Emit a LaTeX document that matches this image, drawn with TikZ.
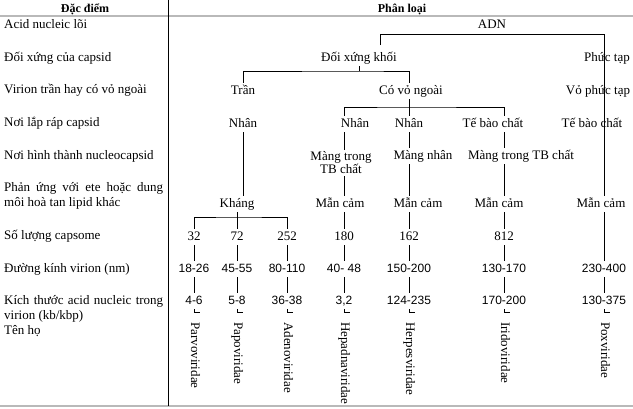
\documentclass[tikz,border=0pt]{standalone}
\usepackage{fontspec}
\setmainfont{Liberation Serif}
\newfontfamily\sofont{Liberation Sans}
\usetikzlibrary{positioning}
\tolerance=10000
\hyphenpenalty=10000

\begin{document}
\begin{tikzpicture}[
    x=1pt, y=-1pt,
    font=\fontsize{13}{15}\selectfont,
    dacdiem/.style = {anchor=base west, inner sep=0pt},
    tieude/.style = {anchor=base, inner sep=0pt, font=\fontsize{12}{14}\selectfont\bfseries},
    nut/.style = {inner sep=2pt, text height=9pt, text depth=3pt},
    so/.style = {nut, font=\fontsize{12}{14}\selectfont\sofont},
    ho/.style = {rotate=-90, anchor=west, inner xsep=10pt, inner ysep=0pt,
                 text height=9pt, text depth=3pt},
    duong/.style = {black, line width=0.75pt},
    ke/.style = {gray!55, line width=1.2pt}
    ]

  \useasboundingbox (0,0) rectangle (633,408);

  % khung bang
  \draw[ke] (0,16) -- (633,16);
  \draw[ke] (0,406) -- (633,406);
  \draw[duong] (168,0) -- (168,406);

  \node[tieude] (hdacdiem) at (85,12) {Đặc điểm};
  \node[tieude] (hphanloai) at (402,12) {Phân loại};

  % cot dac diem
  \node[dacdiem] (l1) at (4,28) {Acid nucleic lõi};
  \node[dacdiem] (l2) at (4,61) {Đối xứng của capsid};
  \node[dacdiem] (l3) at (4,93) {Virion trần hay có vỏ ngoài};
  \node[dacdiem] (l4) at (4,126) {Nơi lắp ráp capsid};
  \node[dacdiem] (l5) at (4,159) {Nơi hình thành nucleocapsid};
  \node[dacdiem, text width=159pt, align=justify] (l6) at (4,191)
       {Phản ứng với ete hoặc dung môi hoà tan lipid khác};
  \node[dacdiem] (l7) at (4,239) {Số lượng capsome};
  \node[dacdiem] (l8) at (4,272) {Đường kính virion (nm)};
  \node[dacdiem, text width=159pt, align=justify] (l9) at (4,304)
       {Kích thước acid nucleic trong virion (kb/kbp)};
  \node[dacdiem] (l10) at (4,334) {Tên họ};

  % cay phan loai
  \node[nut] (adn) at (492,25) {ADN};
  \node[nut] (dxk) at (359,58) {Đối xứng khối};
  \node[nut] (phuctap) at (607,58) {Phức tạp};
  \node[nut] (tran) at (243,91) {Trần};
  \node[nut] (covo) at (411,91) {Có vỏ ngoài};
  \node[nut] (vophuctap) at (598,91) {Vỏ phức tạp};
  \node[nut] (nhan1) at (243,124) {Nhân};
  \node[nut] (nhan2) at (355,124) {Nhân};
  \node[nut] (nhan3) at (409,124) {Nhân};
  \node[nut] (tbc1) at (493,124) {Tế bào chất};
  \node[nut] (tbc2) at (592,124) {Tế bào chất};
  \node[inner sep=2pt, align=center] (mtb1) at (341,163) {Màng trong\\[-2pt]TB chất};
  \node[nut] (mn) at (423,156) {Màng nhân};
  \node[nut] (mtb2) at (521,156) {Màng trong TB chất};
  \node[nut] (khang) at (237,204) {Kháng};
  \node[nut] (mc1) at (340,204) {Mẫn cảm};
  \node[nut] (mc2) at (418,204) {Mẫn cảm};
  \node[nut] (mc3) at (499,204) {Mẫn cảm};
  \node[nut] (mc4) at (601,204) {Mẫn cảm};

  \node[nut] (c32) at (194,237) {32};
  \node[nut] (c72) at (237,237) {72};
  \node[nut] (c252) at (287,237) {252};
  \node[nut] (c180) at (344,237) {180};
  \node[nut] (c162) at (409,237) {162};
  \node[nut] (c812) at (504,237) {812};

  \node[so] (d1) at (194,269) {18-26};
  \node[so] (d2) at (237,269) {45-55};
  \node[so] (d3) at (287,269) {80-110};
  \node[so] (d4) at (344,269) {40- 48};
  \node[so] (d5) at (409,269) {150-200};
  \node[so] (d6) at (504,269) {130-170};
  \node[so] (d7) at (604,269) {230-400};

  \node[so] (k1) at (194,301) {4-6};
  \node[so] (k2) at (237,301) {5-8};
  \node[so] (k3) at (287,301) {36-38};
  \node[so] (k4) at (344,301) {3,2};
  \node[so] (k5) at (409,301) {124-235};
  \node[so] (k6) at (504,301) {170-200};
  \node[so] (k7) at (604,301) {130-375};

  \node[ho] (parvo) at (194,312) {Parvoviridae};
  \node[ho] (papo) at (237,312) {Papoviridae};
  \node[ho] (adeno) at (287,312) {Adenoviridae};
  \node[ho] (hepa) at (344,312) {Hepadnaviridae};
  \node[ho] (herpes) at (409,312) {Herpesviridae};
  \node[ho] (irido) at (504,312) {Iridoviridae};
  \node[ho] (pox) at (604,312) {Poxviridae};

  % nhanh
  \coordinate (adnS) at (380,45);
  \coordinate (adnL) at (380,34);
  \coordinate (adnR) at (604,34);
  \coordinate (dxkbar) at (359,71);
  \coordinate (covobar) at (409,107);
  \coordinate (khangbar) at (237,217);

  \draw[duong] (adnS) -- (adnL) -- (adnR) -- (mc4.north -| adnR);
  \draw[duong] (dxk) -- (dxkbar);
  \draw[duong] (tran) |- (dxkbar) -| (covo.north -| nhan3);
  \draw[duong] (covo.south -| nhan3) -- (nhan3);
  \draw[duong] (nhan2.north -| c180) |- (covobar) -| (tbc1.north -| c812);

  \draw[duong] (nhan1) -- (khang.north -| nhan1);
  \draw[duong] (c32) |- (khangbar) -| (c252);
  \draw[duong] (khang) -- (c72);

  \draw[duong] (nhan2.south -| c180) -- (mtb1.north -| c180);
  \draw[duong] (mtb1.south -| c180) -- (mc1.north -| c180);
  \draw[duong] (mc1.south -| c180) -- (c180);

  \draw[duong] (nhan3) -- (mn.north -| nhan3);
  \draw[duong] (mn.south -| nhan3) -- (mc2.north -| nhan3);
  \draw[duong] (mc2.south -| c162) -- (c162);

  \draw[duong] (tbc1.south -| c812) -- (mtb2.north -| c812);
  \draw[duong] (mtb2.south -| c812) -- (mc3.north -| c812);
  \draw[duong] (mc3.south -| c812) -- (c812);

  \draw[duong] (mc4.south -| d7) -- (d7);

  \draw[duong]
  (c32) edge (d1)
  (c72) edge (d2)
  (c252) edge (d3)
  (c180) edge (d4)
  (c162) edge (d5)
  (c812) edge (d6)
  (d1) edge (k1)
  (d2) edge (k2)
  (d3) edge (k3)
  (d4) edge (k4)
  (d5) edge (k5)
  (d6) edge (k6)
  (d7) edge (k7);

  \draw[duong] (k1) |- (parvo.north west);
  \draw[duong] (k2) |- (papo.north west);
  \draw[duong] (k3) |- (adeno.north west);
  \draw[duong] (k4) |- (hepa.north west);
  \draw[duong] (k5) |- (herpes.north west);
  \draw[duong] (k6) |- (irido.north west);
  \draw[duong] (k7) |- (pox.north west);

\end{tikzpicture}
\end{document}
